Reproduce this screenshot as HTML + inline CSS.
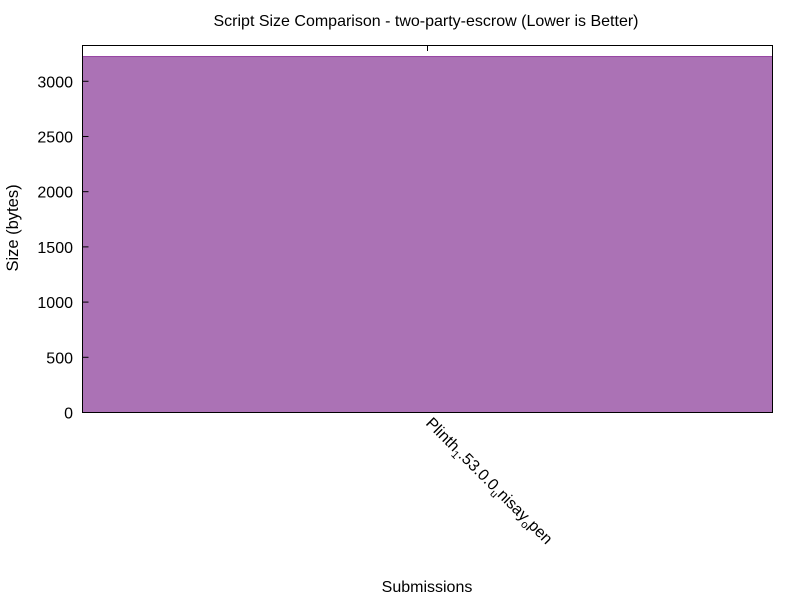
<!DOCTYPE html>
<html><head><meta charset="utf-8"><style>
body{margin:0;background:#fff;}
svg text{font-family:"Liberation Sans",sans-serif;fill:#000;}
</style></head><body>
<svg id="chart" width="800" height="600">
<text x="426" y="26" font-size="16" text-anchor="middle">Script Size Comparison - two-party-escrow (Lower is Better)</text>
<g id="bars"></g>
<rect x="82.5" y="45.5" width="690" height="367" fill="none" stroke="#000"/>
<g id="yaxis"></g>
<line x1="427.5" y1="45" x2="427.5" y2="51" stroke="#000"/>
<text transform="translate(425,424) rotate(45)" font-size="16">Plinth<tspan font-size="11" dy="4">1</tspan><tspan dy="-4">.53.0.0</tspan><tspan font-size="11" dy="4">u</tspan><tspan dy="-4">nisay</tspan><tspan font-size="11" dy="4">o</tspan><tspan dy="-4">pen</tspan></text>
<text x="427" y="592" font-size="16" text-anchor="middle">Submissions</text>
<text transform="translate(18,228) rotate(-90)" font-size="16.5" text-anchor="middle">Size (bytes)</text>
</svg>
<script>
const categories = ["Plinth_1.53.0.0_unisay_open"];
const values = [3224];
const yTicks = [0,500,1000,1500,2000,2500,3000];
const ns="http://www.w3.org/2000/svg";
const X0=82.5,X1=772.5,Y0=412.5,Y1=45.5,YMAX=3324;
const y=v=>Y0-(v/YMAX)*(Y0-Y1);
const bw=(X1-X0)/categories.length;
const bars=document.getElementById('bars');
categories.forEach((c,i)=>{
  const r=document.createElementNS(ns,'rect');
  r.setAttribute('x',X0+i*bw);r.setAttribute('width',bw);
  r.setAttribute('y',y(values[i]));r.setAttribute('height',Y0-y(values[i]));
  r.setAttribute('fill','#ab72b5');r.setAttribute('stroke','#9440a0');
  
  
  bars.appendChild(r);
});
const ya=document.getElementById('yaxis');
yTicks.forEach(t=>{
  const l=document.createElementNS(ns,'line');
  l.setAttribute('x1',X0);l.setAttribute('x2',X0+6);l.setAttribute('y1',y(t));l.setAttribute('y2',y(t));
  l.setAttribute('stroke','#000');
  
  
  ya.appendChild(l);
  const tx=document.createElementNS(ns,'text');
  tx.setAttribute('x',73);tx.setAttribute('y',y(t)+6);tx.setAttribute('text-anchor','end');tx.setAttribute('font-size','16');
  tx.textContent=t;
  
  
  ya.appendChild(tx);
});
</script>
</body></html>
